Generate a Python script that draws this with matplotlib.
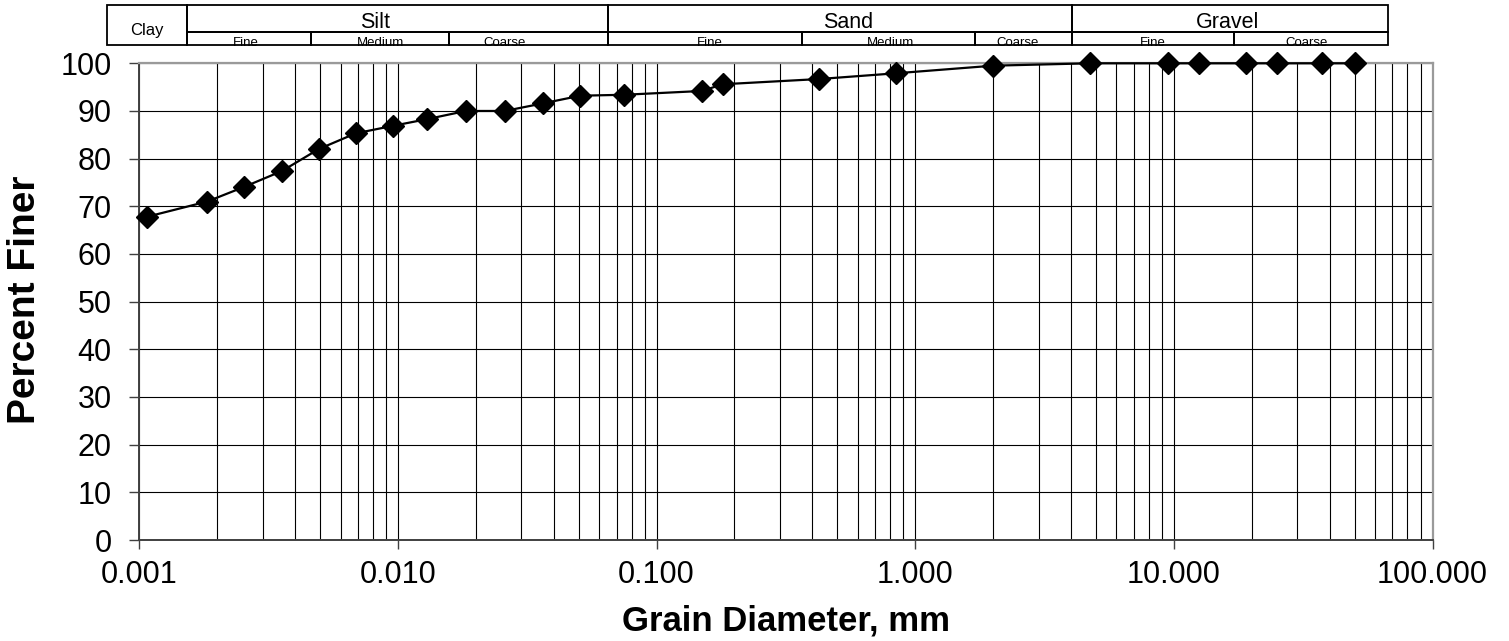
import matplotlib
matplotlib.use('Agg')
import matplotlib.pyplot as plt
from matplotlib.patches import Rectangle
from matplotlib.ticker import LogLocator, FixedLocator, NullFormatter

plt.rcParams['font.family'] = ['Liberation Sans', 'DejaVu Sans']

# ---- data ----
diameter_mm = [0.00107, 0.00183, 0.00255, 0.00356, 0.00494, 0.00686, 0.0096,
               0.0130, 0.0183, 0.0259, 0.0364, 0.0507, 0.075, 0.150, 0.180,
               0.425, 0.84, 2.0, 4.75, 9.5, 12.5, 19.0, 25.0, 37.5, 50.0]
percent_finer = [67.8, 71.0, 74.1, 77.4, 82.0, 85.3, 86.9, 88.3, 90.0, 90.0,
                 91.6, 93.2, 93.4, 94.2, 95.6, 96.7, 97.9, 99.5, 100, 100,
                 100, 100, 100, 100, 100]
x_ticks = [0.001, 0.01, 0.1, 1, 10, 100]
x_tick_labels = ['0.001', '0.010', '0.100', '1.000', '10.000', '100.000']
y_ticks = list(range(0, 101, 10))

# header classification table
main_classes = ['Clay', 'Silt', 'Sand', 'Gravel']
sub_classes = {'Silt': ['Fine', 'Medium', 'Coarse'],
               'Sand': ['Fine', 'Medium', 'Coarse'],
               'Gravel': ['Fine', 'Coarse']}

W, H = 1509, 641
fig = plt.figure(figsize=(W / 100, H / 100), dpi=100)

# ---- main axes ----
L, R, T, B = 139.3, 1432.5, 63.3, 540
ax = fig.add_axes([L / W, 1 - B / H, (R - L) / W, (B - T) / H])
ax.set_xscale('log')
ax.set_xlim(0.001, 100)
ax.set_ylim(0, 100)

ax.xaxis.set_major_locator(FixedLocator(x_ticks))
ax.set_xticklabels(x_tick_labels)
ax.xaxis.set_minor_locator(LogLocator(base=10, subs=range(2, 10), numticks=50))
ax.xaxis.set_minor_formatter(NullFormatter())
ax.set_yticks(y_ticks)

ax.grid(True, which='both', axis='x', color='black', lw=0.8)
ax.grid(True, which='major', axis='y', color='black', lw=0.8)
ax.set_axisbelow(True)

ax.tick_params(axis='x', which='major', direction='out', length=6.5, width=1,
               color='#404040', labelsize=22, pad=8)
ax.tick_params(axis='x', which='minor', length=0)
ax.tick_params(axis='y', direction='out', length=7, width=1,
               color='#404040', labelsize=22, pad=13)

for s in ['top', 'right']:
    ax.spines[s].set_color('#9a9a9a')
    ax.spines[s].set_linewidth(1.6)
for s in ['left', 'bottom']:
    ax.spines[s].set_color('#404040')
    ax.spines[s].set_linewidth(1.4)

ax.plot(diameter_mm, percent_finer, color='black', lw=1.6, marker='D',
        ms=11.5, mfc='black', mec='black', clip_on=False, zorder=5)

# ---- overlay in pixel coordinates ----
ov = fig.add_axes([0, 0, 1, 1], zorder=10)
ov.set_xlim(0, W)
ov.set_ylim(H, 0)
ov.axis('off')
ov.patch.set_alpha(0)

ov.text((L + R) / 2, 630, 'Grain Diameter, mm', fontsize=25, fontweight='bold',
        ha='center', va='baseline')
ov.text(25, 300, 'Percent Finer', fontsize=28, fontweight='bold',
        ha='center', va='center', rotation=90)

top, mid, bot = 5, 32, 45
main_edges = {'Clay': (107, 187), 'Silt': (187, 608), 'Sand': (608, 1072), 'Gravel': (1072, 1388)}
main_text_x = {'Clay': 147, 'Silt': 375, 'Sand': 848, 'Gravel': 1228}
sub_edges = {'Silt': [187, 311, 449, 608],
             'Sand': [608, 802, 975, 1072],
             'Gravel': [1072, 1234, 1388]}
sub_text_x = {'Silt': [246, 380, 505],
              'Sand': [710, 891, 1018],
              'Gravel': [1153, 1307]}

lc = 'black'
for name in main_classes:
    x0, x1 = main_edges[name]
    if name == 'Clay':
        ov.add_patch(Rectangle((x0, top), x1 - x0, bot - top, fill=False, ec=lc, lw=1.3))
        ov.text(main_text_x[name], 35, name, fontsize=12, ha='center', va='baseline')
    else:
        ov.add_patch(Rectangle((x0, top), x1 - x0, mid - top, fill=False, ec=lc, lw=1.3))
        ov.text(main_text_x[name], 28.5, name, fontsize=15.5, ha='center', va='baseline')
        edges = sub_edges[name]
        for i, sub in enumerate(sub_classes[name]):
            a, b = edges[i], edges[i + 1]
            ov.add_patch(Rectangle((a, mid), b - a, bot - mid, fill=False, ec=lc, lw=1.3))
            clip = Rectangle((a, mid), b - a, bot - mid, transform=ov.transData,
                             fill=False, lw=0)
            t = ov.text(sub_text_x[name][i], 45.5, sub, fontsize=9.5, ha='center',
                        va='baseline')
            t.set_clip_path(clip)

fig.savefig('out.png', dpi=100)
